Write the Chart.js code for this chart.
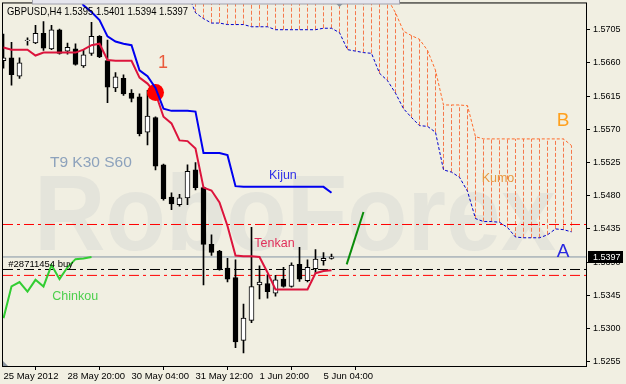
<!DOCTYPE html>
<html>
<head>
<meta charset="utf-8">
<script src="https://cdn.jsdelivr.net/npm/chart.js@4/dist/chart.umd.min.js"></script>
<style>
  html, body { margin: 0; padding: 0; background: #F1EFE2; }
  #chart { display: block; }
</style>
</head>
<body>
<canvas id="chart" width="626" height="384"></canvas>
<script>
// GBPUSD H4, one value per bar (bar index 0..41)
const symbol = "GBPUSD,H4";
const xTickIndex = [0, 8, 16, 24, 32, 40];
const xTickLabels = ["25 May 2012", "28 May 20:00", "30 May 04:00", "31 May 12:00", "1 Jun 20:00", "5 Jun 04:00"];
const yTickValues = [1.5255, 1.5300, 1.5345, 1.5390, 1.5435, 1.5480, 1.5525, 1.5570, 1.5615, 1.5660, 1.5705];

const opens = [1.5663, 1.5667, 1.5642, 1.5690, 1.5687, 1.5700, 1.5679, 1.5705, 1.5676, 1.5679,
  1.5656, 1.5673, 1.5696, 1.5663, 1.5626, 1.5639, 1.5619, 1.5614, 1.5566, 1.5586,
  1.5522, 1.5478, 1.5468, 1.5477, 1.5515, 1.5491, 1.5414, 1.5405, 1.5382, 1.5369,
  1.5284, 1.5311, 1.5359, 1.5361, 1.5348, 1.5367, 1.5357, 1.5387, 1.5365, 1.5381,
  1.5392, 1.5395];
const highs = [1.5699, 1.5688, 1.5667, 1.5694, 1.5711, 1.5716, 1.5711, 1.5706, 1.5687, 1.5686,
  1.5677, 1.5715, 1.5697, 1.5691, 1.5647, 1.5644, 1.5624, 1.5618, 1.5623, 1.5587,
  1.5523, 1.5484, 1.5482, 1.5522, 1.5525, 1.5492, 1.5427, 1.5406, 1.5395, 1.5393,
  1.5333, 1.5437, 1.5385, 1.5373, 1.5372, 1.5383, 1.5389, 1.5410, 1.5393, 1.5407,
  1.5403, 1.5401];
const lows = [1.5653, 1.5630, 1.5639, 1.5684, 1.5686, 1.5677, 1.5678, 1.5672, 1.5672, 1.5657,
  1.5654, 1.5670, 1.5667, 1.5606, 1.5621, 1.5616, 1.5607, 1.5561, 1.5549, 1.5515,
  1.5474, 1.5461, 1.5466, 1.5468, 1.5488, 1.5359, 1.5399, 1.5379, 1.5363, 1.5274,
  1.5267, 1.5308, 1.5340, 1.5341, 1.5344, 1.5356, 1.5356, 1.5364, 1.5363, 1.5375,
  1.5386, 1.5394];
const closes = [1.5667, 1.5644, 1.5660, 1.5691, 1.5700, 1.5680, 1.5705, 1.5673, 1.5681, 1.5658,
  1.5671, 1.5696, 1.5668, 1.5627, 1.5641, 1.5618, 1.5612, 1.5564, 1.5588, 1.5520,
  1.5476, 1.5469, 1.5477, 1.5513, 1.5491, 1.5414, 1.5403, 1.5380, 1.5367, 1.5282,
  1.5314, 1.5357, 1.5363, 1.5350, 1.5366, 1.5357, 1.5386, 1.5367, 1.5383, 1.5394,
  1.5395, 1.5397];

const tenkan = [1.5681, 1.5678, 1.5678, 1.5678, 1.5670, 1.5674, 1.5674, 1.5674, 1.5674, 1.5674,
  1.5678, 1.5684, 1.5686, 1.5664, 1.5663, 1.5663, 1.5663, 1.5640, 1.5632, 1.5619,
  1.5587, 1.5578, 1.5555, 1.5554, 1.5544, 1.5491, 1.5487, 1.5471, 1.5439, 1.5399,
  1.5398, 1.5398, 1.5397, 1.5376, 1.5353, 1.5353, 1.5353, 1.5353, 1.5353, 1.5375,
  1.5378, 1.5379];
const kijun = [1.5758, 1.5758, 1.5758, 1.5758, 1.5758, 1.5758, 1.5758, 1.5758, 1.5758, 1.5758,
  1.5738, 1.5729, 1.5718, 1.5696, 1.5689, 1.5686, 1.5684, 1.5650, 1.5642, 1.5626,
  1.5598, 1.5595, 1.5595, 1.5595, 1.5594, 1.5538, 1.5538, 1.5538, 1.5535, 1.5493,
  1.5492, 1.5492, 1.5492, 1.5492, 1.5492, 1.5492, 1.5492, 1.5492, 1.5492, 1.5492,
  1.5492, 1.5484];
// chinkou: close shifted back 30 bars (bars 0..11)
const chinkou = [1.5314, 1.5357, 1.5363, 1.5350, 1.5366, 1.5357, 1.5386, 1.5367, 1.5383, 1.5394, 1.5395, 1.5397];

// kumo, shifted 30 bars ahead, starts at bar 23
const cloudStart = 23;
const spanA = [1.5755, 1.5728, 1.5720, 1.5714, 1.5714, 1.5712, 1.5712, 1.5712, 1.5709, 1.5709,
  1.5709, 1.5705, 1.5705, 1.5705, 1.5705, 1.5705, 1.5705, 1.5707, 1.5707, 1.5701,
  1.5678, 1.5676, 1.5674, 1.5673, 1.5646, 1.5636, 1.5619, 1.5598, 1.5586, 1.5575,
  1.5574, 1.5566, 1.5515, 1.5512, 1.5505, 1.5486, 1.5449, 1.5445, 1.5445, 1.5444,
  1.5437, 1.5424, 1.5423, 1.5423, 1.5423, 1.5427, 1.5435, 1.5434, 1.5431];
const spanB = [1.5765, 1.5765, 1.5765, 1.5765, 1.5765, 1.5765, 1.5765, 1.5765, 1.5765, 1.5765,
  1.5765, 1.5765, 1.5765, 1.5765, 1.5765, 1.5765, 1.5765, 1.5765, 1.5765, 1.5765,
  1.5765, 1.5765, 1.5765, 1.5765, 1.5765, 1.5747, 1.5728, 1.5703, 1.5697, 1.5692,
  1.5677, 1.5650, 1.5603, 1.5603, 1.5603, 1.5602, 1.5560, 1.5557, 1.5557, 1.5557,
  1.5557, 1.5557, 1.5557, 1.5557, 1.5557, 1.5557, 1.5557, 1.5557, 1.5548];

// levels and drawings
const resistanceLevel = 1.5441;
const orderLevel = 1.5380;
const stopLevel = 1.5372;
const orderLabel = "#28711454 buy";
const signalBar = 19;
const signalPrice = 1.5620;
const forecastX = [42.9, 45.0];
const forecastY = [1.5387, 1.5458];

const xMin = -0.0625, xMax = 72.8125;
const yMin = 1.52492, yMax = 1.57406;
const last = closes.length - 1;
const watermark = "RoboForex";

const notes = [
  { text: "T9 K30 S60", x: 5.81, y: 1.55193, size: 15.5, color: "#8DA2BC" },
  { text: "1", x: 19.3, y: 1.5653, size: 18, color: "#EA5A3C" },
  { text: "Kijun", x: 33.19, y: 1.55028, size: 12.5, color: "#3030E8" },
  { text: "Tenkan", x: 31.35, y: 1.54099, size: 12.5, color: "#E0305A" },
  { text: "Kumo", x: 59.77, y: 1.54987, size: 12.5, color: "#E8963E" },
  { text: "Chinkou", x: 6.1, y: 1.53386, size: 12.5, color: "#4CCF4C" },
  { text: "B", x: 69.15, y: 1.55741, size: 19, color: "#FFA01E" },
  { text: "A", x: 69.15, y: 1.53964, size: 19, color: "#2828E0" },
  { text: orderLabel, x: 0.6, y: 1.53828, size: 9.5, color: "#000000" },
];

const FONT = '"Liberation Sans", Arial, sans-serif';

const series = (arr, start) => arr.map((v, k) => ({ x: start + k, y: v }));
const level = (p) => [{ x: xMin, y: p }, { x: xMax, y: p }];

const decor = {
  id: "decor",
  beforeDraw(chart) {
    const { ctx, width, height } = chart;
    ctx.save();
    ctx.fillStyle = "#F1EFE2";
    ctx.fillRect(0, 0, width, height);
    ctx.restore();
  },
  beforeDatasetsDraw(chart) {
    const { ctx, chartArea: a, scales: { x, y } } = chart;
    ctx.save();
    ctx.beginPath();
    ctx.rect(a.left, a.top, a.right - a.left, a.bottom - a.top);
    ctx.clip();

    // watermark
    ctx.font = "bold 108px " + FONT;
    const w = ctx.measureText(watermark).width;
    ctx.translate(a.left + 31, a.top + 247);
    ctx.scale(522 / w, 1);
    ctx.fillStyle = "#E4E4DB";
    ctx.fillText(watermark, 0, 0);
    ctx.setTransform(1, 0, 0, 1, 0, 0);

    // kumo hatching
    ctx.strokeStyle = "#F5794D";
    ctx.lineWidth = 1;
    ctx.setLineDash([4, 2]);
    spanA.forEach((va, k) => {
      const px = Math.floor(x.getPixelForValue(cloudStart + k)) + 0.5;
      const y1 = y.getPixelForValue(Math.max(va, spanB[k]));
      const y2 = y.getPixelForValue(Math.min(va, spanB[k]));
      ctx.beginPath();
      ctx.moveTo(px, y2);
      ctx.lineTo(px, y1);
      ctx.stroke();
    });
    ctx.restore();
  },
  afterDatasetsDraw(chart) {
    const { ctx, chartArea: a, scales: { x, y } } = chart;
    ctx.save();
    ctx.textBaseline = "alphabetic";
    ctx.textAlign = "left";
    notes.forEach((n) => {
      ctx.font = n.size + "px " + FONT;
      ctx.fillStyle = n.color;
      ctx.fillText(n.text, x.getPixelForValue(n.x), y.getPixelForValue(n.y));
    });

    // frame
    ctx.strokeStyle = "#000";
    ctx.lineWidth = 1;
    ctx.strokeRect(a.left - 0.5, a.top - 0.5, a.right - a.left + 1, a.bottom - a.top + 1);

    // title
    const title = symbol + " " + [opens[last], highs[last], lows[last], closes[last]].map((v) => v.toFixed(4)).join(" ");
    ctx.font = "11px " + FONT;
    const tw = ctx.measureText(title).width;
    ctx.translate(a.left + 4, a.top + 12);
    ctx.scale(181 / tw, 1);
    ctx.fillStyle = "#000";
    ctx.fillText(title, 0, 0);
    ctx.setTransform(1, 0, 0, 1, 0, 0);

    // bid price box on the axis
    const by = Math.round(y.getPixelForValue(closes[last]));
    ctx.fillStyle = "#000";
    ctx.fillRect(a.right + 2, by - 6, 35, 12);
    ctx.fillStyle = "#FFF";
    ctx.font = "9px " + FONT;
    ctx.textBaseline = "middle";
    ctx.fillText(closes[last].toFixed(4), a.right + 7, by + 0.5);

    // toolbar strip and shift markers
    ctx.fillStyle = "#E6E6EE";
    ctx.fillRect(32, 0, 368, 4);
    ctx.strokeStyle = "#A0A0AC";
    ctx.strokeRect(32.5, -1, 367, 5);
    const sx = x.getPixelForValue(last + 1);
    ctx.fillStyle = "#8C96A0";
    ctx.beginPath();
    ctx.moveTo(sx - 3, 4); ctx.lineTo(sx + 3, 4); ctx.lineTo(sx, 7); ctx.closePath();
    ctx.fill();
    ctx.beginPath();
    ctx.moveTo(a.left, a.bottom - 5); ctx.lineTo(a.left, a.bottom); ctx.lineTo(a.left + 5, a.bottom); ctx.closePath();
    ctx.fill();
    ctx.restore();
  },
};

const dashDot = [10, 4, 3, 4];

new Chart(document.getElementById("chart"), {
  type: "line",
  data: {
    datasets: [
      { data: forecastX.map((v, k) => ({ x: v, y: forecastY[k] })), borderColor: "#0A8C0A", borderWidth: 2, pointRadius: 0, clip: 0 },
      { data: series(kijun, 0), borderColor: "#0000F0", borderWidth: 2, pointRadius: 0, clip: 0 },
      { data: [{ x: signalBar, y: signalPrice }], showLine: false, pointRadius: 8.5, pointBackgroundColor: "#FF0000", pointBorderWidth: 0, clip: 0 },
      { data: series(tenkan, 0), borderColor: "#DC143C", borderWidth: 2, pointRadius: 0, clip: 0 },
      { data: series(chinkou, 0), borderColor: "#32CD32", borderWidth: 2, pointRadius: 0, clip: 0 },
      {
        type: "bar", grouped: false, barThickness: 5, borderWidth: 1, borderSkipped: false, borderColor: "#000",
        backgroundColor: opens.map((o, i) => (closes[i] >= o ? "#FFFFFF" : "#000000")),
        data: opens.map((o, i) => ({ x: i, y: [o, closes[i]] })),
      },
      {
        type: "bar", grouped: false, barThickness: 1, backgroundColor: "#000",
        data: lows.map((l, i) => ({ x: i, y: [l, highs[i]] })),
      },
      { data: series(spanA, cloudStart), borderColor: "#0000CC", borderWidth: 1, borderDash: [3, 2], pointRadius: 0, clip: 0 },
      { data: series(spanB, cloudStart), borderColor: "#FF6A2A", borderWidth: 1, borderDash: [3, 2], pointRadius: 0, clip: 0 },
      { data: level(closes[last]), borderColor: "#8494A4", borderWidth: 1, pointRadius: 0, clip: 0 },
      { data: level(orderLevel), borderColor: "#000000", borderWidth: 1, borderDash: dashDot, pointRadius: 0, clip: 0 },
      { data: level(stopLevel), borderColor: "#FF0000", borderWidth: 1, borderDash: dashDot, pointRadius: 0, clip: 0 },
      { data: level(resistanceLevel), borderColor: "#FF0000", borderWidth: 1, borderDash: dashDot, pointRadius: 0, clip: 0 },
    ],
  },
  options: {
    responsive: false,
    animation: false,
    devicePixelRatio: 1,
    layout: { autoPadding: false, padding: { left: 3, top: 3, right: 0, bottom: 0 } },
    plugins: { legend: { display: false }, tooltip: { enabled: false } },
    scales: {
      x: {
        type: "linear", min: xMin, max: xMax, offset: false,
        afterBuildTicks: (s) => { s.ticks = xTickIndex.map((v) => ({ value: v })); },
        afterFit: (s) => { s.height = 18; },
        ticks: {
          autoSkip: false, maxRotation: 0, minRotation: 0, align: "start", padding: 1, color: "#000",
          font: { family: FONT, size: 9.5 },
          callback: (v, i) => xTickLabels[i],
        },
        grid: { drawOnChartArea: false, drawTicks: true, tickLength: 4, color: "#000" },
        border: { display: false },
      },
      y: {
        type: "linear", position: "right", min: yMin, max: yMax,
        afterBuildTicks: (s) => { s.ticks = yTickValues.map((v) => ({ value: v })); },
        afterFit: (s) => { s.width = 40; },
        ticks: {
          padding: 3, color: "#000", font: { family: FONT, size: 9, lineHeight: 0.1 },
          callback: (v) => Number(v).toFixed(4),
        },
        grid: { drawOnChartArea: false, drawTicks: true, tickLength: 4, color: "#000" },
        border: { display: false },
      },
    },
  },
  plugins: [decor],
});
</script>
</body>
</html>
